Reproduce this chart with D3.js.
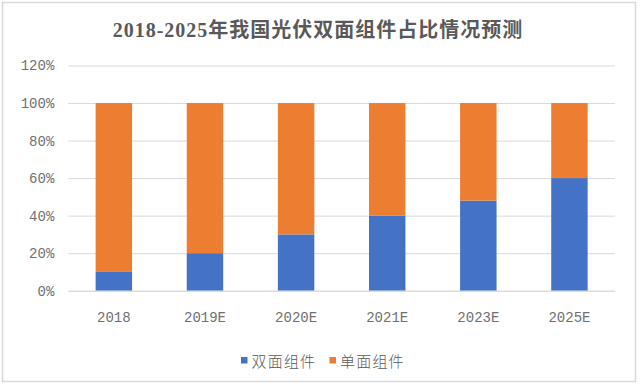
<!DOCTYPE html>
<html><head><meta charset="utf-8">
<script src="https://cdn.jsdelivr.net/npm/d3@7"></script>
<style>
html,body{margin:0;padding:0;background:#fff;}
svg{display:block;}
</style></head>
<body>
<svg id="chart" width="643" height="386"></svg>
<script>
const title = "2018-2025年我国光伏双面组件占比情况预测";
const categories = ["2018","2019E","2020E","2021E","2023E","2025E"];
const bifacial = [0.10,0.20,0.30,0.40,0.48,0.60];
const monofacial = [0.90,0.80,0.70,0.60,0.52,0.40];
const seriesNames = ["双面组件","单面组件"];
const colors = ["#4472C4","#ED7D31"];
const yTicks = [0,0.2,0.4,0.6,0.8,1.0,1.2];

const svg = d3.select("#chart");
svg.append("rect").attr("x",2.5).attr("y",2.5).attr("width",633).attr("height",379)
  .attr("fill","#fff").attr("stroke","#d9d9d9").attr("stroke-width",1.5);

const x = d3.scaleBand().domain(categories).range([68.3,615]).paddingInner(0.6).paddingOuter(0.3);
const y = d3.scaleLinear().domain([0,1.2]).range([290.7,65.5]);

const axisFont = "'Liberation Mono', 'DejaVu Sans Mono', monospace";
// gridlines
const gAx = svg.append("g").attr("transform","translate(68.3,0)")
  .call(d3.axisLeft(y).tickValues(yTicks).tickSize(-(615-68.3)).tickFormat(d=>Math.round(d*100)+"%"));
gAx.select(".domain").remove();
gAx.selectAll(".tick line").attr("stroke","#d9d9d9").attr("stroke-width",1);
gAx.selectAll(".tick text").attr("x",-14).attr("fill","#707070")
  .style("font-family",axisFont).style("font-size","14px");

// stacked data
const rows = categories.map((c,i)=>({cat:c, b:bifacial[i], m:monofacial[i]}));
const stack = d3.stack().keys(["b","m"])(rows);
svg.append("g").selectAll("g").data(stack).join("g")
  .attr("fill",(d,i)=>colors[i])
  .selectAll("rect").data(d=>d).join("rect")
  .attr("x",d=>x(d.data.cat)).attr("width",x.bandwidth())
  .attr("y",d=>y(d[1])).attr("height",d=>y(d[0])-y(d[1]));

// x axis
const gX = svg.append("g").attr("transform","translate(0,290.7)")
  .call(d3.axisBottom(x).tickSize(0).tickPadding(0));
gX.select(".domain").attr("stroke","#d9d9d9");
gX.selectAll(".tick text").attr("dy","31").attr("fill","#707070")
  .style("font-family",axisFont).style("font-size","14px");

// title
svg.append("text").attr("x",318).attr("y",37).attr("text-anchor","middle")
  .attr("fill","#595959").style("font-family","'Liberation Serif','Noto Sans CJK SC',serif")
  .style("font-weight","bold").style("font-size","20px").style("letter-spacing","1px")
  .text(title);

// legend
const legendX = [241,329.5];
const lg = svg.append("g");
seriesNames.forEach((n,i)=>{
  lg.append("rect").attr("x",legendX[i]).attr("y",357).attr("width",6.5).attr("height",6.5).attr("fill",colors[i]);
  lg.append("text").attr("x",legendX[i]+10.5).attr("y",366.5).attr("fill","#595959")
    .style("font-family","'Noto Sans CJK SC',sans-serif").style("font-weight","300")
    .style("font-size","15px").style("letter-spacing","1.2px").text(n);
});
</script>
</body></html>
